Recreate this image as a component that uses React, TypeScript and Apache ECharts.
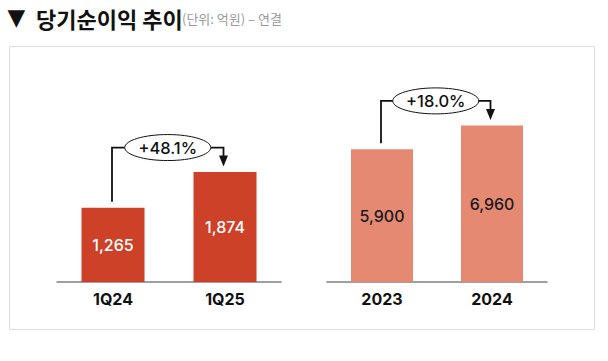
import React, { useEffect, useRef } from "react";
import * as echarts from "echarts";

const quarterCats = ["1Q24", "1Q25"];
const quarterValues = [1265, 1874];
const yearCats = ["2023", "2024"];
const yearValues = [5900, 6960];
const growthLabels = ["+48.1%", "+18.0%"];

const titleMark = "▼";
const titleText = "당기순이익 추이";
const subtitleText = "(단위: 억원) – 연결";

const NUM_FONT = "Inter, 'Noto Sans', sans-serif";
const KR_FONT = "'Noto Sans CJK KR', 'Noto Sans', sans-serif";

export default function App() {
  const ref = useRef<HTMLDivElement>(null);

  useEffect(() => {
    if (!ref.current) return;
    const chart = echarts.init(ref.current, undefined, { renderer: "svg" });

    const xAxisCommon = {
      type: "category" as const,
      axisTick: { show: false },
      axisLine: { show: true, lineStyle: { color: "#808080", width: 1.5 } },
      axisLabel: {
        color: "#111",
        fontFamily: NUM_FONT,
        fontSize: 16,
        fontWeight: "bold" as const,
        margin: 9,
      },
    };
    const yAxisCommon = {
      type: "value" as const,
      min: 0,
      show: false,
      splitLine: { show: false },
    };
    const fmt = (p: any) => Number(p.value).toLocaleString("en-US");

    chart.setOption({
      animation: false,
      grid: [
        { left: 57, width: 224, top: 106, bottom: 79 },
        { left: 327, width: 220, top: 102, bottom: 79 },
      ],
      xAxis: [
        { ...xAxisCommon, gridIndex: 0, data: quarterCats },
        { ...xAxisCommon, gridIndex: 1, data: yearCats },
      ],
      yAxis: [
        { ...yAxisCommon, gridIndex: 0, max: 3000 },
        { ...yAxisCommon, gridIndex: 1, max: 8000 },
      ],
      series: [
        {
          type: "bar",
          xAxisIndex: 0,
          yAxisIndex: 0,
          data: quarterValues,
          barWidth: 63,
          itemStyle: { color: "#CC4127" },
          label: {
            show: true,
            position: "inside",
            color: "#fff",
            fontFamily: NUM_FONT,
            fontSize: 16,
            fontWeight: 500,
            formatter: fmt,
          },
        },
        {
          type: "bar",
          xAxisIndex: 1,
          yAxisIndex: 1,
          data: yearValues,
          barWidth: 62,
          itemStyle: { color: "#E68973" },
          label: {
            show: true,
            position: "inside",
            color: "#1a1a1a",
            fontFamily: NUM_FONT,
            fontSize: 16,
            fontWeight: 500,
            formatter: fmt,
          },
        },
      ],
    });

    const graphics: any[] = [
      {
        type: "rect",
        shape: { x: 9.5, y: 46.5, width: 585, height: 283 },
        style: { fill: "none", stroke: "#dedede", lineWidth: 1 },
        z: 0,
        silent: true,
      },
      {
        type: "text",
        x: 16.3,
        y: 17,
        style: {
          text: titleMark,
          fontFamily: "'DejaVu Sans', sans-serif",
          fontSize: 23,
          fill: "#111",
          align: "center",
          verticalAlign: "middle",
        },
      },
      {
        type: "text",
        x: 36,
        y: 17.5,
        style: {
          text: titleText,
          fontFamily: KR_FONT,
          fontSize: 22,
          fontWeight: "bold",
          fill: "#111",
          verticalAlign: "middle",
        },
      },
      {
        type: "text",
        x: 182,
        y: 18.5,
        style: {
          text: subtitleText,
          fontFamily: KR_FONT,
          fontSize: 13,
          fill: "#9a9a9a",
          verticalAlign: "middle",
        },
      },
    ];

    const groups = [
      { idx: 0, values: quarterValues, label: growthLabels[0] },
      { idx: 1, values: yearValues, label: growthLabels[1] },
    ];
    groups.forEach((g) => {
      const p0 = chart.convertToPixel({ xAxisIndex: g.idx, yAxisIndex: g.idx }, [0, g.values[0]]) as number[];
      const p1 = chart.convertToPixel({ xAxisIndex: g.idx, yAxisIndex: g.idx }, [1, g.values[1]]) as number[];
      const x0 = p0[0] - 1;
      const x1 = p1[0] - 1.5;
      const topY = Math.min(p0[1], p1[1]);
      const by = topY - 24.5;
      const cx = (x0 + x1) / 2;
      const rx = 43;
      const ry = 13;
      const stroke = "#111";
      graphics.push(
        {
          type: "polyline",
          shape: { points: [[x0, p0[1] - 6], [x0, by], [cx - rx, by]] },
          style: { stroke, lineWidth: 1.8, fill: "none" },
          z: 10,
        },
        {
          type: "polyline",
          shape: { points: [[cx + rx, by], [x1, by], [x1, p1[1] - 15]] },
          style: { stroke, lineWidth: 1.8, fill: "none" },
          z: 10,
        },
        {
          type: "polygon",
          shape: { points: [[x1 - 4.5, p1[1] - 16.5], [x1 + 4.5, p1[1] - 16.5], [x1, p1[1] - 5.5]] },
          style: { fill: stroke },
          z: 10,
        },
        {
          type: "ellipse",
          shape: { cx, cy: by, rx, ry },
          style: { fill: "#fff", stroke, lineWidth: 1 },
          z: 11,
        },
        {
          type: "text",
          x: cx,
          y: by,
          style: {
            text: g.label,
            fontFamily: NUM_FONT,
            fontSize: 16.5,
            fontWeight: 500,
            fill: "#111",
            align: "center",
            verticalAlign: "middle",
          },
          z: 12,
        }
      );
    });

    chart.setOption({ graphic: graphics });

    return () => chart.dispose();
  }, []);

  return (
    <div
      ref={ref}
      style={{ position: "absolute", left: 0, top: 0, width: 608, height: 361, background: "#fff" }}
    />
  );
}
